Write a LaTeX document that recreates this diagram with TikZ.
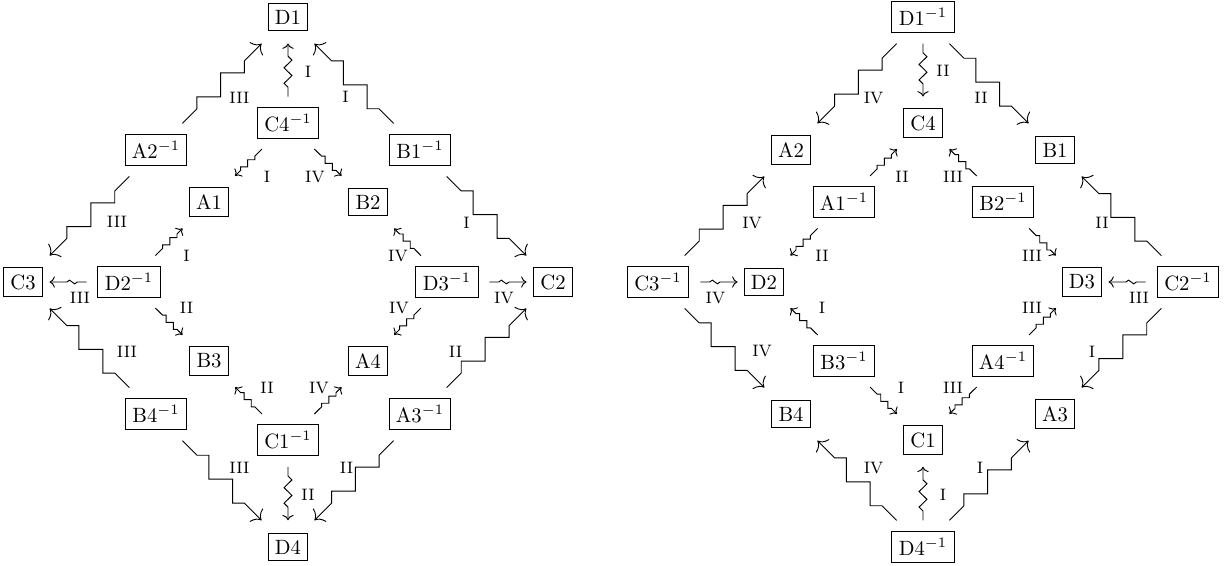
\documentclass[tikz,border=0pt]{standalone}
\usetikzlibrary{calc,decorations.pathmorphing,arrows.meta}
\tikzset{
  box/.style={draw, line width=0.5pt, inner sep=3.33pt},
  lab/.style={font=\footnotesize, inner sep=0pt},
  longarr/.style={line width=0.45pt, -{Computer Modern Rightarrow[length=3.8pt,width=9pt]}},
  shortarr/.style={line width=0.45pt, -{Computer Modern Rightarrow}},
  vz/.style={line width=0.45pt, -{Computer Modern Rightarrow}, decorate,
    decoration={zigzag, amplitude=1.9pt, segment length=7.5pt, pre=lineto, pre length=4.5pt, post=lineto, post length=5pt}},
  hz/.style={line width=0.45pt, -{Computer Modern Rightarrow}, decorate,
    decoration={zigzag, amplitude=0.9pt, segment length=5pt, pre=lineto, pre length=4.5pt, post=lineto, post length=7pt}}
}
% long staircase, vertical first / horizontal first
\newcommand\lstV[2]{\draw[longarr] ($(#1)!.2!(#2)$) -- ($(#1)!.31!(#2)$) |- ($(#1)!.40!(#2)$) -| ($(#1)!.49!(#2)$) |- ($(#1)!.58!(#2)$) -| ($(#1)!.67!(#2)$) -- ($(#1)!.8!(#2)$);}
\newcommand\lstH[2]{\draw[longarr] ($(#1)!.2!(#2)$) -- ($(#1)!.31!(#2)$) -| ($(#1)!.40!(#2)$) |- ($(#1)!.49!(#2)$) -| ($(#1)!.58!(#2)$) |- ($(#1)!.67!(#2)$) -- ($(#1)!.8!(#2)$);}
% short staircase
\newcommand\sstV[2]{\draw[shortarr] ($(#1)!.33!(#2)$) -- ($(#1)!.42!(#2)$) |- ($(#1)!.465!(#2)$) -| ($(#1)!.51!(#2)$) |- ($(#1)!.555!(#2)$) -| ($(#1)!.60!(#2)$) -- ($(#1)!.67!(#2)$);}
\newcommand\sstH[2]{\draw[shortarr] ($(#1)!.33!(#2)$) -- ($(#1)!.42!(#2)$) -| ($(#1)!.465!(#2)$) |- ($(#1)!.51!(#2)$) -| ($(#1)!.555!(#2)$) |- ($(#1)!.60!(#2)$) -- ($(#1)!.67!(#2)$);}
% vertical and horizontal squiggles
\newcommand\vsq[2]{\draw[vz] ($(#1)!.25!(#2)$) -- ($(#1)!.75!(#2)$);}
\newcommand\hsq[2]{\draw[hz] ($(#1)!.4!(#2)$) -- ($(#1)!.75!(#2)$);}
% label
\newcommand\lbl[5]{\path (#1.center) -- node[lab, shift={(#3,#4)}] {#5} (#2.center);}
\begin{document}
\begin{tikzpicture}[x=0.4833pt, y=-0.4833pt]
\useasboundingbox (0,0) rectangle (1225,566);
% ---------- left diagram ----------
\node[box] (lD1) at (288,17) {D1};
\node[box] (lC4) at (288,123) {C4$^{-1}$};
\node[box] (lA2) at (156,150) {A2$^{-1}$};
\node[box] (lB1) at (420,150) {B1$^{-1}$};
\node[box] (lA1) at (209,202) {A1};
\node[box] (lB2) at (368,202) {B2};
\node[box] (lC3) at (23,282) {C3};
\node[box] (lD2) at (129,282) {D2$^{-1}$};
\node[box] (lD3) at (447,282) {D3$^{-1}$};
\node[box] (lC2) at (553,282) {C2};
\node[box] (lB3) at (209,361) {B3};
\node[box] (lA4) at (368,361) {A4};
\node[box] (lB4) at (156,414) {B4$^{-1}$};
\node[box] (lA3) at (420,414) {A3$^{-1}$};
\node[box] (lC1) at (288,440) {C1$^{-1}$};
\node[box] (lD4) at (288,547) {D4};

\lstV{lA2}{lD1} \lbl{lA2}{lD1}{17.5}{14.5}{III}
\vsq{lC4}{lD1}  \lbl{lC4}{lD1}{20}{2}{I}
\lstH{lB1}{lD1} \lbl{lB1}{lD1}{-8.5}{13.5}{I}
\sstV{lC4}{lA1} \lbl{lC4}{lA1}{18.5}{14.5}{I}
\sstH{lC4}{lB2} \lbl{lC4}{lB2}{-13}{14.5}{IV}
\lstV{lA2}{lC3} \lbl{lA2}{lC3}{27.5}{6}{III}
\lstH{lB1}{lC2} \lbl{lB1}{lC2}{-20}{7}{I}
\sstV{lD2}{lA1} \lbl{lD2}{lA1}{17.5}{14}{I}
\hsq{lD2}{lC3}  \lbl{lD2}{lC3}{4}{16}{III}
\sstH{lD2}{lB3} \lbl{lD2}{lB3}{17.5}{-13.5}{II}
\lstH{lB4}{lC3} \lbl{lB4}{lC3}{37.5}{4}{III}
\sstH{lD3}{lB2} \lbl{lD3}{lB2}{-9.5}{14}{IV}
\hsq{lD3}{lC2}  \lbl{lD3}{lC2}{4}{16}{IV}
\sstV{lD3}{lA4} \lbl{lD3}{lA4}{-8.5}{-13.5}{IV}
\lstV{lA3}{lC2} \lbl{lA3}{lC2}{-31}{4}{II}
\sstH{lC1}{lB3} \lbl{lC1}{lB3}{18.5}{-12.5}{II}
\sstV{lC1}{lA4} \lbl{lC1}{lA4}{-9}{-12.5}{IV}
\lstH{lB4}{lD4} \lbl{lB4}{lD4}{17.5}{-12.5}{III}
\vsq{lC1}{lD4}  \lbl{lC1}{lD4}{20}{1.5}{II}
\lstV{lA3}{lD4} \lbl{lA3}{lD4}{-7.5}{-12.5}{II}

% ---------- right diagram ----------
\node[box] (rD1) at (923,17) {D1$^{-1}$};
\node[box] (rC4) at (923,123) {C4};
\node[box] (rA2) at (791,150) {A2};
\node[box] (rB1) at (1055,150) {B1};
\node[box] (rA1) at (844,202) {A1$^{-1}$};
\node[box] (rB2) at (1003,202) {B2$^{-1}$};
\node[box] (rC3) at (658,282) {C3$^{-1}$};
\node[box] (rD2) at (764,282) {D2};
\node[box] (rD3) at (1082,282) {D3};
\node[box] (rC2) at (1188,282) {C2$^{-1}$};
\node[box] (rB3) at (844,361) {B3$^{-1}$};
\node[box] (rA4) at (1003,361) {A4$^{-1}$};
\node[box] (rB4) at (791,414) {B4};
\node[box] (rA3) at (1055,414) {A3};
\node[box] (rC1) at (923,440) {C1};
\node[box] (rD4) at (923,547) {D4$^{-1}$};

\lstV{rD1}{rA2} \lbl{rD1}{rA2}{16.5}{14.5}{IV}
\vsq{rD1}{rC4}  \lbl{rD1}{rC4}{20}{1}{II}
\lstH{rD1}{rB1} \lbl{rD1}{rB1}{-8}{14.5}{II}
\sstV{rA1}{rC4} \lbl{rA1}{rC4}{18.5}{14.5}{II}
\sstH{rB2}{rC4} \lbl{rB2}{rC4}{-10}{14.5}{III}
\lstV{rC3}{rA2} \lbl{rC3}{rA2}{27.5}{7}{IV}
\lstH{rC2}{rB1} \lbl{rC2}{rB1}{-19.5}{7}{II}
\sstV{rA1}{rD2} \lbl{rA1}{rD2}{18}{14}{II}
\hsq{rC3}{rD2}  \lbl{rC3}{rD2}{4.5}{16}{IV}
\sstH{rB3}{rD2} \lbl{rB3}{rD2}{18}{-13.5}{I}
\lstH{rC3}{rB4} \lbl{rC3}{rB4}{37.5}{3}{IV}
\sstH{rB2}{rD3} \lbl{rB2}{rD3}{-10.5}{14}{III}
\hsq{rC2}{rD3}  \lbl{rC2}{rD3}{4}{16}{III}
\sstV{rA4}{rD3} \lbl{rA4}{rD3}{-10.5}{-13.5}{III}
\lstV{rC2}{rA3} \lbl{rC2}{rA3}{-29.5}{4}{I}
\sstH{rB3}{rC1} \lbl{rB3}{rC1}{17.5}{-12.5}{I}
\sstV{rA4}{rC1} \lbl{rA4}{rC1}{-10}{-12.5}{III}
\lstH{rD4}{rB4} \lbl{rD4}{rB4}{16.5}{-12.5}{IV}
\vsq{rD4}{rC1}  \lbl{rD4}{rC1}{20}{1.5}{I}
\lstV{rD4}{rA3} \lbl{rD4}{rA3}{-9}{-12.5}{I}
\end{tikzpicture}
\end{document}
